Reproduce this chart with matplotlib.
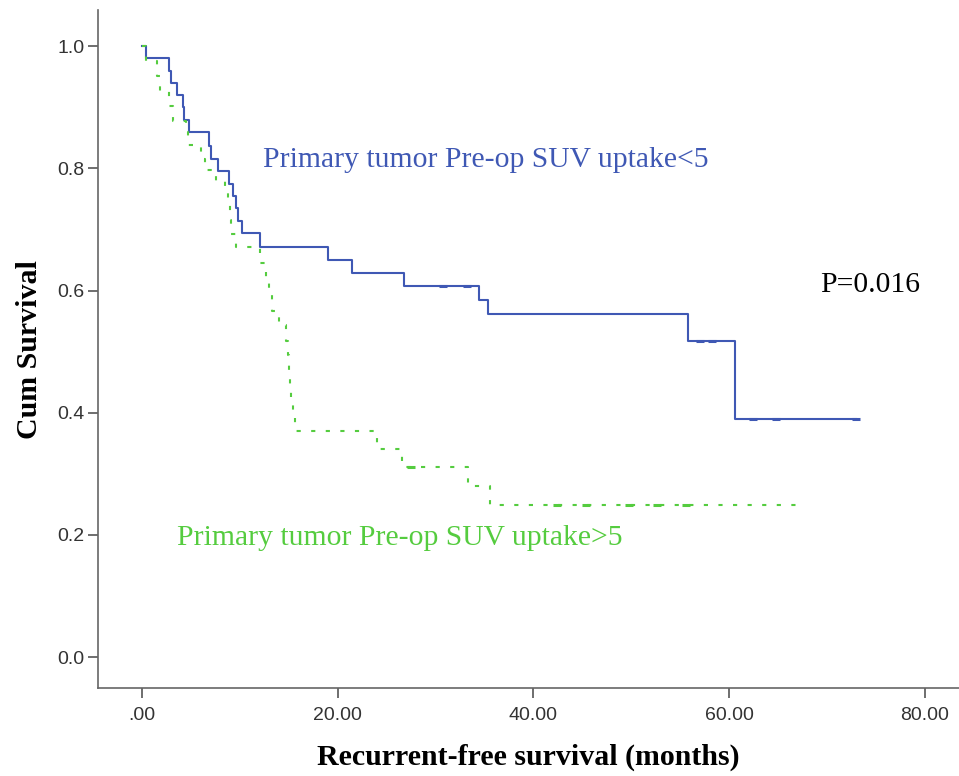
import numpy as np
import matplotlib
matplotlib.use("Agg")
import matplotlib.pyplot as plt

# Kaplan-Meier steps (months, cumulative survival)
low_t = [0.0, 0.4, 2.8, 2.95, 3.6, 4.2, 4.3, 4.8, 6.9, 7.1, 7.8, 8.9, 9.3, 9.6, 9.8,
         10.2, 12.1, 19.0, 21.5, 26.8, 34.5, 35.4, 55.8, 60.6, 73.0]
low_s = [1.0, 0.98, 0.959, 0.94, 0.92, 0.90, 0.879, 0.859, 0.837, 0.816, 0.796, 0.775,
         0.755, 0.735, 0.714, 0.694, 0.671, 0.65, 0.629, 0.607, 0.584, 0.561, 0.518,
         0.389, 0.389]
low_cens_t = [30.8, 33.2, 57.0, 58.3, 62.4, 64.8, 73.0]
low_cens_s = [0.607, 0.607, 0.518, 0.518, 0.389, 0.389, 0.389]

high_t = [0.0, 0.4, 1.5, 1.9, 2.8, 3.2, 4.5, 4.7, 6.0, 6.5, 7.6, 8.5, 8.8, 9.0, 9.1,
          9.6, 12.1, 12.7, 13.0, 13.3, 14.0, 14.7, 14.9, 15.0, 15.1, 15.2, 15.4, 15.7,
          24.0, 26.6, 33.3, 35.6, 67.4]
high_s = [1.0, 0.976, 0.951, 0.927, 0.902, 0.878, 0.86, 0.838, 0.816, 0.798, 0.78,
          0.76, 0.74, 0.715, 0.692, 0.672, 0.645, 0.618, 0.593, 0.567, 0.543, 0.518,
          0.494, 0.47, 0.445, 0.42, 0.395, 0.37, 0.34, 0.311, 0.28, 0.249, 0.249]
high_cens_t = [27.5, 42.4, 45.4, 49.8, 52.6, 55.6]
high_cens_s = [0.311, 0.249, 0.249, 0.249, 0.249, 0.249]

x_ticks = [0, 20, 40, 60, 80]
x_labels = [".00", "20.00", "40.00", "60.00", "80.00"]
y_ticks = [0.0, 0.2, 0.4, 0.6, 0.8, 1.0]

blue = "#3f58b4"
green = "#55cc3f"

fig = plt.figure(figsize=(9.59, 7.76), dpi=100)
ax = fig.add_axes([0.102, 0.113, 0.898, 0.874])

ax.step(low_t, low_s, where="post", color=blue, lw=1.5)
ax.plot(low_cens_t, low_cens_s, ls="none", marker="_", ms=6, mew=2.2, color=blue)
ax.step(high_t, high_s, where="post", color=green, lw=1.5, ls=(0, (2, 5)))
ax.plot(high_cens_t, high_cens_s, ls="none", marker="_", ms=6, mew=2.2, color=green)

ax.set_xlim(-4.5, 83.5)
ax.set_ylim(-0.051, 1.059)

ax.set_xticks(x_ticks)
ax.set_xticklabels(x_labels, family="Liberation Sans", fontsize=14, color="#333333")
ax.set_yticks(y_ticks)
ax.set_yticklabels(["%.1f" % v for v in y_ticks], family="Liberation Sans",
                   fontsize=14, color="#333333")
ax.tick_params(axis="both", length=7.5, width=1.2, color="#555555")
ax.tick_params(axis="x", pad=6)
ax.tick_params(axis="y", pad=2)

for side in ["top", "right"]:
    ax.spines[side].set_visible(False)
for side in ["left", "bottom"]:
    ax.spines[side].set_color("#666666")
    ax.spines[side].set_linewidth(1.2)

ax.set_xlabel("Recurrent-free survival (months)", family="Liberation Serif",
              fontweight="bold", fontsize=21.5, labelpad=14)
ax.set_ylabel("Cum Survival", family="Liberation Serif", fontweight="bold",
              fontsize=21.5, labelpad=10)

ax.text(12.4, 0.813, "Primary tumor Pre-op SUV uptake<5", color=blue,
        family="Liberation Serif", fontsize=21.3, va="center")
ax.text(3.6, 0.195, "Primary tumor Pre-op SUV uptake>5", color=green,
        family="Liberation Serif", fontsize=21.3, va="center")
ax.text(69.3, 0.609, "P=0.016", color="black", family="Liberation Serif",
        fontsize=21.3, va="center")

fig.savefig("out.png", dpi=100)
